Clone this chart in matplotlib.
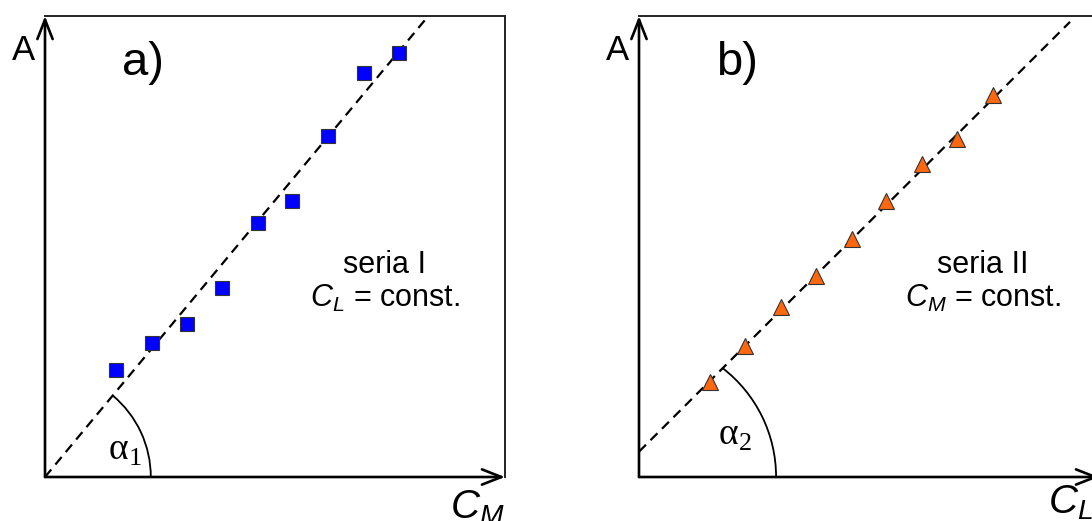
import matplotlib
matplotlib.use("Agg")
import matplotlib.pyplot as plt
from matplotlib.patches import Arc
import numpy as np

plt.rcParams['font.family'] = ['Liberation Sans', 'DejaVu Sans']
plt.rcParams['mathtext.fontset'] = 'custom'
plt.rcParams['mathtext.it'] = 'Liberation Sans:italic'
plt.rcParams['mathtext.rm'] = 'Liberation Serif'
plt.rcParams['mathtext.sf'] = 'Liberation Sans'

# ---- data ----
a_x = [1.54, 2.32, 3.08, 3.85, 4.62, 5.38, 6.16, 6.93, 7.70]
a_y = [2.32, 2.91, 3.32, 4.11, 5.52, 5.99, 7.40, 8.76, 9.20]
b_x = [1.54, 2.30, 3.08, 3.85, 4.62, 5.38, 6.16, 6.91, 7.69]
b_y = [2.07, 2.84, 3.69, 4.37, 5.16, 5.99, 6.78, 7.33, 8.29]

a_fit = (1.20, 0.0)     # slope, intercept
b_fit = (0.995, 0.55)
a_fit_xmax = 8.33
b_fit_xmax = 9.37

panel_labels = ["a)", "b)"]
series_labels = ["seria I", "seria II"]
const_labels = ["$C_L$ = const.", "$C_M$ = const."]
xlabels = ["$C_M$", "$C_L$"]
angle_labels = [r"$\mathrm{α}_\mathrm{1}$", r"$\mathrm{α}_\mathrm{2}$"]

W, H = 1092, 521
fig = plt.figure(figsize=(W / 100, H / 100), dpi=100)
fig.patch.set_facecolor('white')

def add_ax(left_px, bottom_px, w_px, h_px):
    return fig.add_axes([left_px / W, (H - bottom_px) / H, w_px / W, h_px / H])

ax_a = add_ax(45, 477, 460, 461)
ax_b = add_ax(639, 477, 460, 461)

def setup(ax):
    ax.set_xlim(0, 10)
    ax.set_ylim(0, 10)
    ax.set_xticks([])
    ax.set_yticks([])
    for s in ['top', 'right']:
        ax.spines[s].set_linewidth(1.4)
        ax.spines[s].set_color('#222222')
    for s in ['left', 'bottom']:
        ax.spines[s].set_visible(False)
    arrow = dict(arrowstyle='->,head_length=1.4,head_width=0.55', lw=1.9,
                 color='black', shrinkA=0, shrinkB=0)
    ax.annotate('', xy=(10, 0), xytext=(0, 0), arrowprops=arrow,
                annotation_clip=False)
    ax.annotate('', xy=(0, 10), xytext=(0, 0), arrowprops=arrow,
                annotation_clip=False)
    ax.text(-0.46, 9.26, "A", fontsize=25, ha='center', va='center')

def fit_line(ax, fit, xmax):
    xs = np.array([0.0, xmax])
    ys = fit[0] * xs + fit[1]
    ax.plot(xs, ys, color='black', lw=1.6, dashes=(4.4, 2.9),
            solid_capstyle='butt', dash_capstyle='butt')

def angle_arc(ax, fit, r):
    # intersection of circle radius r (centered at origin) with fit line
    m, c = fit
    A = 1 + m * m
    B = 2 * m * c
    C = c * c - r * r
    x = (-B + np.sqrt(B * B - 4 * A * C)) / (2 * A)
    y = m * x + c
    theta = np.degrees(np.arctan2(y, x))
    ax.add_patch(Arc((0, 0), 2 * r, 2 * r, theta1=0, theta2=theta,
                     lw=1.3, color='black'))

# ---- panel a ----
setup(ax_a)
fit_line(ax_a, a_fit, a_fit_xmax)
ax_a.plot(a_x, a_y, 's', ms=9.6, mfc='#0000FF', mec='#333333', mew=0.8,
          clip_on=False, zorder=5)
angle_arc(ax_a, a_fit, 2.3)
ax_a.text(2.13, 8.97, panel_labels[0], fontsize=34, ha='center', va='center')
ax_a.text(7.39, 4.43, series_labels[0], fontsize=22, ha='center', va='baseline')
ax_a.text(7.39, 3.69, const_labels[0], fontsize=22, ha='center', va='baseline')
ax_a.text(8.8, -0.90, xlabels[0], fontsize=29, ha='left', va='baseline',
          clip_on=False)
ax_a.text(1.74, 0.59, angle_labels[0], fontsize=27, ha='center', va='center')

# ---- panel b ----
setup(ax_b)
fit_line(ax_b, b_fit, b_fit_xmax)
ax_b.plot(b_x, b_y, '^', ms=11.5, mfc='#FF670F', mec='#333333', mew=0.8,
          clip_on=False, zorder=5)
angle_arc(ax_b, b_fit, 2.98)
ax_b.text(2.13, 8.97, panel_labels[1], fontsize=34, ha='center', va='center')
ax_b.text(7.48, 4.43, series_labels[1], fontsize=22, ha='center', va='baseline')
ax_b.text(7.48, 3.69, const_labels[1], fontsize=22, ha='center', va='baseline')
ax_b.text(8.89, -0.80, xlabels[1], fontsize=29, ha='left', va='baseline',
          clip_on=False)
ax_b.text(2.09, 0.91, angle_labels[1], fontsize=27, ha='center', va='center')

fig.savefig("out.png", dpi=100, facecolor='white')
